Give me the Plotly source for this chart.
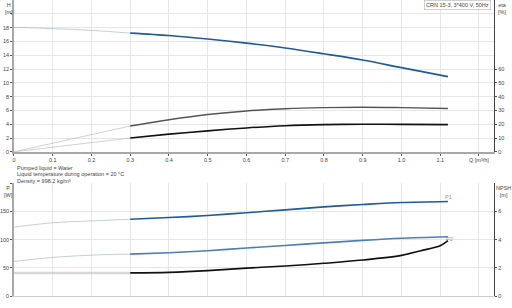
import plotly.graph_objects as go

# ---------------- data ----------------
q_fade = [0.0, 0.1, 0.2, 0.3]
h_fade = [18.05, 17.85, 17.6, 17.2]
q_main = [0.3, 0.4, 0.5, 0.6, 0.7, 0.8, 0.9, 1.0, 1.12]
h_main = [17.2, 16.85, 16.35, 15.75, 15.05, 14.2, 13.3, 12.2, 10.9]

q_eta_fade = [0.0, 0.3]
eta_tot_fade = [0.0, 18.7]
eta_pump_fade = [0.0, 10.0]
eta_tot = [18.7, 23.2, 27.0, 29.6, 31.2, 32.0, 32.3, 32.0, 31.4]
eta_pump = [10.0, 12.8, 15.2, 17.3, 18.9, 19.7, 20.0, 19.9, 19.7]

p1_fade = [122, 129.8, 133, 136]
p2_fade = [61.4, 68.4, 72.5, 74.3]
p1_main = [136, 139, 142.6, 147.5, 152.6, 157.9, 162, 165.5, 167.3]
p2_main = [74.3, 76.8, 80.3, 85.0, 89.6, 94.2, 98.6, 102.3, 105]

q_npsh = [0.3, 0.4, 0.5, 0.6, 0.7, 0.8, 0.9, 1.0, 1.05, 1.1, 1.12]
npsh = [1.64, 1.68, 1.8, 1.98, 2.13, 2.32, 2.55, 2.88, 3.21, 3.56, 3.92]
npsh_fade = [1.64, 1.64]

x_ticks = [0, 0.1, 0.2, 0.3, 0.4, 0.5, 0.6, 0.7, 0.8, 0.9, 1.0, 1.1, 1.2]
x_ticktext = ["0", "0.1", "0.2", "0.3", "0.4", "0.5", "0.6", "0.7", "0.8",
              "0.9", "1.0", "1.1", "Q [m³/h]"]
h_ticks = [0, 2, 4, 6, 8, 10, 12, 14, 16, 18, 20]
h_ticktext = ["0", "2", "4", "6", "8", "10", "12", "14", "16", "18", ""]
eta_ticks = [0, 10, 20, 30, 40, 50, 60]
p_ticks = [0, 50, 100, 150, 200]
p_ticktext = ["0", "50", "100", "150", ""]
npsh_ticks = [0, 2, 4, 6]

title_text = "CRN 15-3, 3*400 V, 50Hz"
info_lines = ["Pumped liquid = Water",
              "Liquid temperature during operation = 20 °C",
              "Density = 998.2 kg/m³"]

# ---------------- figure ----------------
FONT = "Liberation Sans, Arial, sans-serif"
BLUE = "#1f5b99"
BLUE2 = "#4d7fb3"
GRAY = "#555555"
BLACK = "#111111"
FADE_BLUE = "rgba(120,150,185,0.45)"
FADE_GRAY = "rgba(150,150,150,0.55)"

fig = go.Figure()

def add(x, y, color, width, xa, ya, shape="spline"):
    fig.add_trace(go.Scatter(x=x, y=y, mode="lines", xaxis=xa, yaxis=ya,
                             line=dict(color=color, width=width, shape=shape,
                                       smoothing=0.9 if shape == "spline" else None),
                             hoverinfo="skip", showlegend=False))

# top chart
add(q_fade, h_fade, FADE_BLUE, 1, "x", "y")
add(q_main, h_main, BLUE, 1.6, "x", "y")
add(q_eta_fade, eta_tot_fade, FADE_GRAY, 0.8, "x", "y2", "linear")
add(q_eta_fade, eta_pump_fade, FADE_GRAY, 0.8, "x", "y2", "linear")
add(q_main, eta_tot, GRAY, 1.4, "x", "y2")
add(q_main, eta_pump, BLACK, 1.6, "x", "y2")

# bottom chart
add(q_fade, p1_fade, FADE_BLUE, 1, "x2", "y3")
add(q_fade, p2_fade, FADE_BLUE, 1, "x2", "y3")
add(q_main, p1_main, BLUE, 1.6, "x2", "y3")
add(q_main, p2_main, BLUE2, 1.6, "x2", "y3")
add(q_eta_fade, npsh_fade, "rgba(205,205,205,0.8)", 2.5, "x2", "y4", "linear")
add(q_npsh, npsh, BLACK, 1.6, "x2", "y4")

XD = [12 / 512, 494 / 512]
TOPD = [(308 - 153.3) / 308, 1.0]
BOTD = [(308 - 299) / 308, (308 - 184.3) / 308]
GRID = "#e6e6e6"
tf = dict(family=FONT, size=5.5, color="#444444")

common_x = dict(range=[0, 1.239], domain=XD, tickvals=x_ticks, ticktext=x_ticktext,
                showgrid=True, gridcolor=GRID, gridwidth=1, zeroline=False,
                tickfont=tf)

fig.update_layout(
    width=512, height=308,
    margin=dict(l=0, r=0, t=0, b=0),
    paper_bgcolor="white", plot_bgcolor="white",
    showlegend=False,
    font=dict(family=FONT, size=5.5, color="#444444"),
    xaxis=dict(**common_x, anchor="y", showline=True, linecolor="#a8a8a8", linewidth=2,
               ticks="outside", ticklen=2, tickcolor="#555555"),
    xaxis2=dict(**common_x, anchor="y3", showticklabels=False, ticks="",
                showline=True, linecolor="#cccccc", linewidth=1),
    yaxis=dict(range=[0, 22], domain=TOPD, anchor="x", tickvals=h_ticks, ticktext=h_ticktext,
               showgrid=True, gridcolor=GRID, zeroline=False, showline=True,
               linecolor="#a8a8a8", linewidth=1.5, ticks="outside", ticklen=2,
               tickcolor="#555555", tickfont=tf),
    yaxis2=dict(range=[0, 110], overlaying="y", side="right", anchor="x",
                tickvals=eta_ticks, showgrid=False, zeroline=False, showline=True,
                linecolor="#444444", linewidth=1, ticks="outside", ticklen=2,
                tickcolor="#555555", tickfont=tf),
    yaxis3=dict(range=[0, 201], domain=BOTD, anchor="x2", tickvals=p_ticks, ticktext=p_ticktext,
                showgrid=True, gridcolor=GRID, zeroline=False, showline=True,
                linecolor="#a8a8a8", linewidth=1.5, ticks="outside", ticklen=2,
                tickcolor="#555555", tickfont=tf),
    yaxis4=dict(range=[0, 8.04], overlaying="y3", side="right", anchor="x2",
                tickvals=npsh_ticks, showgrid=False, zeroline=False, showline=True,
                linecolor="#444444", linewidth=1, ticks="outside", ticklen=2,
                tickcolor="#555555", tickfont=tf),
)

def ann(text, x, y, xanchor="left", yanchor="top", color="#444444"):
    fig.add_annotation(text=text, x=x / 512, y=1 - y / 308, xref="paper", yref="paper",
                       xanchor=xanchor, yanchor=yanchor, showarrow=False,
                       font=dict(family=FONT, size=5.5, color=color), align="center")

ann("H<br>[m]", 7, 0.5, xanchor="center")
ann("eta<br>[%]", 502, 0.5, xanchor="center")
ann("P<br>[W]", 7, 185, xanchor="center")
ann("NPSH<br>[m]", 503, 185, xanchor="center")
for i, line in enumerate(info_lines):
    ann(line, 13, 164.5 + i * 6.5)
ann("P1", 448, 199, xanchor="center", yanchor="middle", color="#7393b8")
ann("P2", 449, 241, xanchor="center", yanchor="middle", color="#7393b8")
fig.add_annotation(text=title_text, x=491 / 512, y=1.0, xref="paper", yref="paper",
                   xanchor="right", yanchor="top", showarrow=False,
                   font=dict(family=FONT, size=5.5, color="#444444"),
                   bordercolor="#b5b5b5", borderwidth=0.6, borderpad=1.5, bgcolor="white")

fig.write_html("out.html")
